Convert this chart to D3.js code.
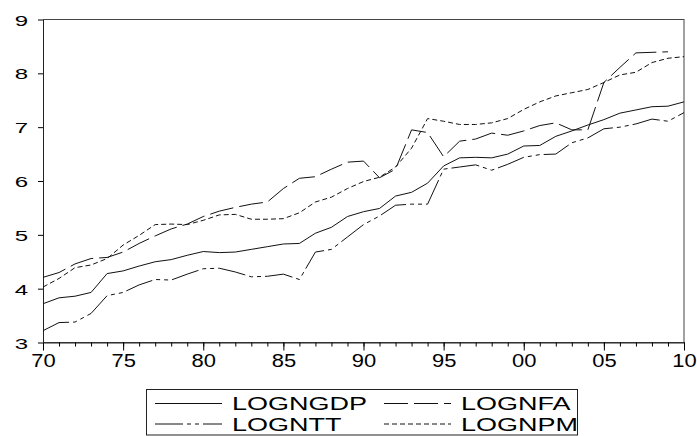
<!doctype html>
<html>
<head>
  <meta charset="utf-8">
  <title>LOGNGDP, LOGNFA, LOGNTT, LOGNPM</title>
  <script src="https://cdn.jsdelivr.net/npm/d3@7"></script>
  <style>
    body { margin: 0; background: #fff; }
    svg { display: block; font-family: "Liberation Sans", Arial, sans-serif; }
  </style>
</head>
<body>
  <div id="chart"></div>

  <script type="text/javascript">
    // yearly observations, 1970 - 2010
    var years = d3.range(1970, 2011);

    var logNGDP = [
      3.72, 3.83, 3.86, 3.93, 4.28, 4.33, 4.42, 4.50, 4.54, 4.62,
      4.69, 4.67, 4.68, 4.73, 4.78, 4.83, 4.84, 5.03, 5.14, 5.34,
      5.43, 5.49, 5.72, 5.79, 5.96, 6.28, 6.43, 6.44, 6.43, 6.50,
      6.65, 6.66, 6.83, 6.93, 7.04, 7.14, 7.26, 7.32, 7.38, 7.39,
      7.47
    ];
    var logNFA = [
      4.21, 4.30, 4.46, 4.56, 4.58, 4.68, 4.84, 4.98, 5.11, 5.20,
      5.34, 5.44, 5.51, 5.57, 5.61, 5.86, 6.05, 6.08, 6.22, 6.35,
      6.37, 6.06, 6.22, 6.95, 6.90, 6.45, 6.74, 6.78, 6.89, 6.85,
      6.93, 7.03, 7.08, 6.95, 6.95, 7.83, 8.11, 8.38, 8.39, 8.40,
      null
    ];
    var logNTT = [
      3.22, 3.37, 3.38, 3.54, 3.87, 3.93, 4.07, 4.17, 4.16, 4.27,
      4.37, 4.38, 4.31, 4.22, 4.23, 4.27, 4.17, 4.68, 4.73, 4.96,
      5.19, 5.35, 5.55, 5.57, 5.57, 6.22, 6.26, 6.30, 6.20, 6.31,
      6.44, 6.49, 6.50, 6.71, 6.80, 6.97, 7.00, 7.06, 7.15, 7.11,
      7.27
    ];
    var logNPM = [
      4.03, 4.19, 4.39, 4.44, 4.56, 4.81, 4.99, 5.19, 5.20, 5.19,
      5.27, 5.37, 5.38, 5.29, 5.29, 5.30, 5.41, 5.61, 5.70, 5.86,
      5.99, 6.07, 6.26, 6.61, 7.16, 7.11, 7.05, 7.05, 7.08, 7.16,
      7.33, 7.47, 7.58, 7.64, 7.70, 7.83, 7.97, 8.02, 8.20, 8.28,
      8.31
    ];

    var seriesNames = ['LOGNGDP', 'LOGNFA', 'LOGNTT', 'LOGNPM'];
    var yTicks = [3, 4, 5, 6, 7, 8, 9];
    var xMajorTicks = [1970, 1975, 1980, 1985, 1990, 1995, 2000, 2005, 2010];

    var width = 697;
    var height = 436;

    var svg = d3.select('div#chart')
      .append('svg')
      .attr('width', width)
      .attr('height', height);

    var plotLeft = 43, plotRight = 684, plotTop = 19.5, plotBottom = 342.5;

    var x = d3.scaleLinear().domain([1970, 2010]).range([plotLeft, plotRight]);
    var y = d3.scaleLinear().domain([3, 9]).range([plotBottom, plotTop]);

    // dash styles, same order as seriesNames
    var dashes = ['none', '24,6', '28,4,4,4,4,4', '5,3'];
    var allSeries = [logNGDP, logNFA, logNTT, logNPM];

    // frame
    svg.append('rect')
      .attr('x', plotLeft + 0.5)
      .attr('y', plotTop)
      .attr('width', plotRight - plotLeft - 0.5)
      .attr('height', plotBottom - plotTop)
      .attr('fill', 'none')
      .attr('stroke', '#444')
      .attr('stroke-width', 1);

    // x axis: minor ticks every year, longer ones every five
    svg.append('g')
      .attr('transform', 'translate(0,' + plotBottom + ')')
      .call(d3.axisBottom(x).tickValues(years).tickSize(4).tickSizeOuter(0).tickFormat(''))
      .call(function(g) { g.select('.domain').attr('stroke', '#222'); });

    var xAxis = svg.append('g')
      .attr('transform', 'translate(0,' + plotBottom + ')')
      .call(d3.axisBottom(x).tickValues(xMajorTicks).tickSize(8).tickSizeOuter(0)
        .tickFormat(function(d) { return String(d % 100).padStart(2, '0'); }));
    xAxis.select('.domain').remove();
    xAxis.selectAll('text')
      .attr('y', 0).attr('dy', 0)
      .attr('transform', 'translate(0,24) scale(1.22,1)')
      .attr('font-size', '18px')
      .attr('font-family', '"Liberation Sans", Arial, sans-serif')
      .attr('fill', '#000');

    // y axis
    var yAxis = svg.append('g')
      .attr('transform', 'translate(' + plotLeft + ',0)')
      .call(d3.axisLeft(y).tickValues(yTicks).tickSize(5).tickSizeOuter(0)
        .tickFormat(d3.format('d')));
    yAxis.select('.domain').attr('stroke', '#222');
    yAxis.selectAll('text')
      .attr('x', 0).attr('dy', 0)
      .attr('transform', 'translate(-15,5.5) scale(1.6,1)')
      .attr('font-size', '15px')
      .attr('font-family', '"Liberation Sans", Arial, sans-serif')
      .attr('fill', '#000');

    var line = d3.line()
      .defined(function(d) { return d != null; })
      .x(function(d, i) { return x(years[i]); })
      .y(function(d) { return y(d); });

    svg.selectAll('path.series')
      .data(allSeries)
      .enter()
      .append('path')
      .attr('class', 'series')
      .attr('d', line)
      .attr('fill', 'none')
      .attr('stroke', '#111')
      .attr('stroke-width', 1)
      .attr('stroke-dasharray', function(d, i) { return dashes[i]; });

    // legend
    var legend = svg.append('g');
    legend.append('rect')
      .attr('x', 146.5).attr('y', 389.5)
      .attr('width', 431).attr('height', 45.5)
      .attr('fill', 'none')
      .attr('stroke', '#222');

    var items = legend.selectAll('g.item')
      .data(seriesNames)
      .enter()
      .append('g')
      .attr('class', 'item')
      .attr('transform', function(d, i) {
        return 'translate(' + (i % 2 ? 384 : 155) + ',' + (i < 2 ? 403 : 423.5) + ')';
      });

    items.append('line')
      .attr('x1', 0).attr('x2', 67)
      .attr('y1', 0.5).attr('y2', 0.5)
      .attr('stroke', '#111')
      .attr('stroke-dasharray', function(d, i) { return dashes[i]; });

    items.append('text')
      .text(function(d) { return d; })
      .attr('transform', 'translate(77,7) scale(1.42,1)')
      .attr('font-size', '19px')
      .attr('fill', '#000');
  </script>
</body>
</html>
